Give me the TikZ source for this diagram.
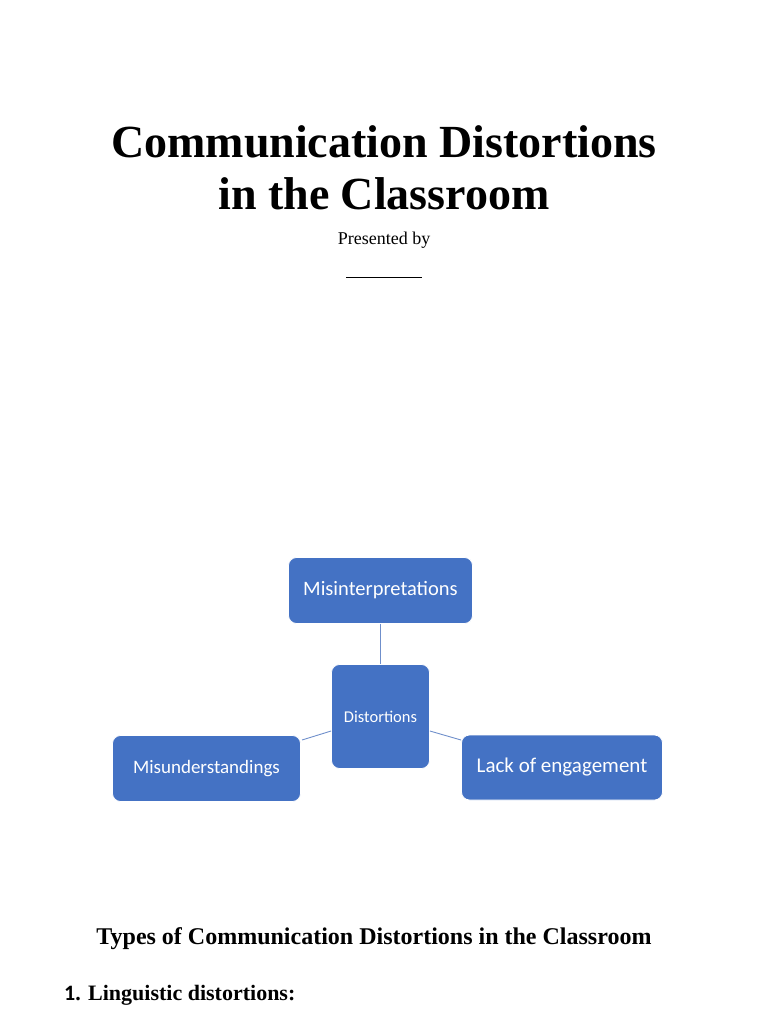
\documentclass[tikz,border=0pt]{standalone}
\usepackage{fontspec}
\setmainfont{Liberation Serif}
\newfontfamily\carl{Carlito}
\definecolor{boxblue}{HTML}{4472C4}
\definecolor{lineblue}{HTML}{6F8FCB}
\begin{document}
\begin{tikzpicture}[x=1pt,y=-1pt,
  bx/.style={fill=boxblue,draw=white,line width=0.8pt,rounded corners=8pt,text=white,inner sep=0pt},
  ln/.style={draw=lineblue,line width=0.9pt}]
\useasboundingbox (0,0) rectangle (768,1024);
\node[font=\bfseries\fontsize{46}{52}\selectfont,align=center,anchor=center] (title) at (384,168) {Communication Distortions\\in the Classroom};
\node[font=\fontsize{18}{20}\selectfont] (pres) at (384,240) {Presented by};
\draw (346,277) coordinate (u1) -- (422,277) coordinate (u2);
\node[bx,minimum width=184,minimum height=66,font=\carl\fontsize{20.5}{22}\selectfont] (mis) at (380.5,590.5) {Misinterpretations};
\node[bx,minimum width=98,minimum height=104,font=\carl\fontsize{16.5}{18}\selectfont] (dis) at (380.5,716.5) {Distortions};
\node[bx,minimum width=188,minimum height=66,font=\carl\fontsize{19}{21}\selectfont] (mu) at (206.5,768.5) {Misunderstandings};
\node[bx,minimum width=201,minimum height=65,font=\carl\fontsize{21}{23}\selectfont] (lack) at (562,767.5) {Lack of engagement};
\draw[ln] (mis.south) -- (dis.north);
\draw[ln] (dis.west |- 0,731) coordinate (a) -- (302,740) coordinate (b);
\draw[ln] (dis.east |- 0,731) coordinate (c) -- (461,740) coordinate (d);
\node[font=\bfseries\fontsize{24}{26}\selectfont] (types) at (374,939) {Types of Communication Distortions in the Classroom};
\node[anchor=west,font=\bfseries\fontsize{22}{24}\selectfont,inner sep=0pt] (ling) at (64,995) {{\carl 1}. Linguistic distortions:};
\end{tikzpicture}
\end{document}
